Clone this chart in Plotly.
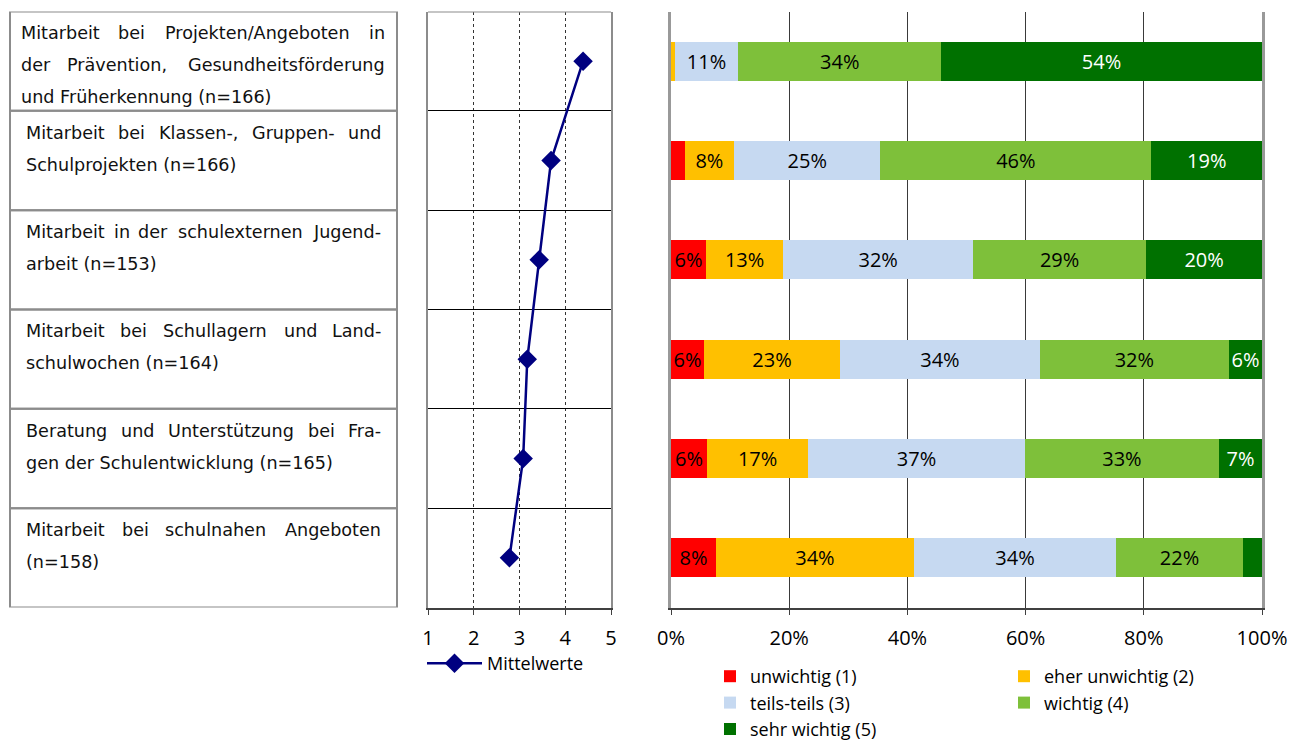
import plotly.graph_objects as go

# ---------------- data ----------------
label_lines = [
    ["Mitarbeit bei Projekten/Angeboten in", "der Prävention, Gesundheitsförderung", "und Früherkennung (n=166)"],
    ["Mitarbeit bei Klassen-, Gruppen- und", "Schulprojekten (n=166)"],
    ["Mitarbeit in der schulexternen Jugend-", "arbeit (n=153)"],
    ["Mitarbeit bei Schullagern und Land-", "schulwochen (n=164)"],
    ["Beratung und Unterstützung bei Fra-", "gen der Schulentwicklung (n=165)"],
    ["Mitarbeit bei schulnahen Angeboten", "(n=158)"],
]
categories = [" ".join(l) for l in label_lines]

means = [4.39, 3.69, 3.43, 3.17, 3.08, 2.78]
mean_ticks = [1, 2, 3, 4, 5]

levels = ["unwichtig (1)", "eher unwichtig (2)", "teils-teils (3)", "wichtig (4)", "sehr wichtig (5)"]
unwichtig = [0.0, 2.3, 5.9, 5.6, 6.1, 7.6]
eher_unwichtig = [0.6, 8.4, 13.1, 23.0, 17.1, 33.5]
teils_teils = [10.8, 24.7, 32.1, 33.8, 36.7, 34.2]
wichtig = [34.3, 45.9, 29.3, 32.0, 32.8, 21.5]
sehr_wichtig = [54.3, 18.7, 19.6, 5.6, 7.3, 3.2]
pct_ticks = [0, 20, 40, 60, 80, 100]
pct_tick_labels = ["0%", "20%", "40%", "60%", "80%", "100%"]

series = [unwichtig, eher_unwichtig, teils_teils, wichtig, sehr_wichtig]
colors = ["#FF0000", "#FFC000", "#C6D9F1", "#7EC03A", "#007100"]
text_colors = ["black", "black", "black", "black", "white"]
legend_ids = ["legend2", "legend3", "legend2", "legend3", "legend2"]

# ---------------- layout helpers ----------------
W, H = 1303, 740
def px(x):
    return x / W
def py(y):
    return 1 - y / H

TICKFONT = dict(family="Open Sans", size=20, color="black")
LEGFONT = dict(family="Open Sans", size=18, color="black")

fig = go.Figure()

fig.add_trace(go.Scatter(
    x=means, y=categories, mode="lines+markers", name="Mittelwerte",
    line=dict(color="#000080", width=2.5),
    marker=dict(symbol="diamond", size=15, color="#000080"),
    xaxis="x", yaxis="y", legend="legend", hoverinfo="skip",
))

for name, vals, col, tcol, lg in zip(levels, series, colors, text_colors, legend_ids):
    fig.add_trace(go.Bar(
        x=vals, y=categories, orientation="h", name=name,
        marker=dict(color=col, line=dict(width=0)),
        width=0.39,
        text=[f"{round(v)}%" if v >= 4 else "" for v in vals],
        textposition="inside", insidetextanchor="middle", textangle=0,
        textfont=dict(family="Open Sans", size=20, color=tcol),
        constraintext="none",
        xaxis="x2", yaxis="y2", legend=lg, hoverinfo="skip",
    ))

# ---------------- left table ----------------
dejavu = {' ': 0.318, 'a': 0.613, 'b': 0.635, 'c': 0.550, 'd': 0.635, 'e': 0.615, 'f': 0.352,
          'g': 0.635, 'h': 0.634, 'i': 0.278, 'j': 0.278, 'k': 0.579, 'l': 0.278, 'm': 0.974,
          'n': 0.634, 'o': 0.612, 'p': 0.635, 'q': 0.635, 'r': 0.411, 's': 0.521, 't': 0.392,
          'u': 0.634, 'v': 0.592, 'w': 0.818, 'x': 0.592, 'y': 0.592, 'z': 0.525,
          'A': 0.684, 'B': 0.686, 'F': 0.575, 'G': 0.775, 'J': 0.295, 'K': 0.656, 'L': 0.557,
          'M': 0.863, 'P': 0.603, 'S': 0.635, 'U': 0.732, 'ä': 0.613, 'ö': 0.612, 'ü': 0.634,
          '/': 0.337, '-': 0.361, ',': 0.318, '(': 0.390, ')': 0.390, '=': 0.838}
FS = 17.6
def wwidth(w):
    return sum(dejavu.get(c, 0.636) for c in w) * FS * 1.03

shapes = []
annotations = []
TFONT = dict(family="DejaVu Sans", size=FS, color="#111")
for i, lines in enumerate(label_lines):
    shapes.append(dict(type="rect", xref="paper", yref="y", x0=px(10), x1=px(397),
                       y0=i - 0.5, y1=i + 0.5, line=dict(color="#8c8c8c", width=2),
                       layer="below"))
    left, right = (20, 386) if i == 0 else (25, 382)
    for k, line in enumerate(lines):
        yshift = 28 - 32 * k
        words = line.split(" ")
        justify = k < len(lines) - 1 and len(words) > 1
        if justify:
            widths = [wwidth(w) for w in words]
            gap = (right - left - sum(widths)) / (len(words) - 1)
            xpos = left
            for j, w in enumerate(words):
                if j == 0:
                    xa, xx = "left", left
                elif j == len(words) - 1:
                    xa, xx = "right", right
                else:
                    xa, xx = "center", xpos + widths[j] / 2
                annotations.append(dict(text=w, xref="paper", yref="y", x=px(xx), y=categories[i],
                                        xanchor=xa, yanchor="middle", yshift=yshift,
                                        showarrow=False, borderpad=0, font=TFONT))
                xpos += widths[j] + gap
        else:
            annotations.append(dict(text=line, xref="paper", yref="y", x=px(left), y=categories[i],
                                    xanchor="left", yanchor="middle", yshift=yshift,
                                    showarrow=False, borderpad=0, font=TFONT))

# top border of mean chart
shapes.append(dict(type="line", xref="x", yref="y", x0=1, x1=5, y0=-0.5, y1=-0.5,
                   line=dict(color="#8c8c8c", width=2)))

ydom = [py(607.5), py(11.5)]

fig.update_layout(
    width=W, height=H, margin=dict(l=0, r=0, t=0, b=0, autoexpand=False),
    paper_bgcolor="white", plot_bgcolor="white",
    font=dict(family="Open Sans", size=19, color="black"),
    barmode="stack",
    xaxis=dict(domain=[px(428), px(611)], range=[1, 5], tickvals=mean_ticks,
               showgrid=True, gridcolor="#333333", griddash="dot", gridwidth=1,
               zeroline=False, showline=True, linecolor="#404040", linewidth=1.5,
               ticks="outside", ticklen=6, tickcolor="#404040", tickfont=TICKFONT,
               ticklabelstandoff=6, anchor="y", fixedrange=True, automargin=False),
    yaxis=dict(domain=ydom, type="category", categoryarray=categories, range=[5.5, -0.5],
               showticklabels=False, tickson="boundaries", ticks="",
               showgrid=True, gridcolor="black", gridwidth=1,
               showline=True, mirror=True, linecolor="#8c8c8c", linewidth=2,
               anchor="x", fixedrange=True, automargin=False),
    xaxis2=dict(domain=[px(671), px(1262)], range=[0, 100], tickvals=pct_ticks,
                ticktext=pct_tick_labels,
                showgrid=True, gridcolor="#3a3a3a", gridwidth=1, zeroline=False,
                showline=True, linecolor="#404040", linewidth=1.5,
                ticks="outside", ticklen=6, tickcolor="#404040", tickfont=TICKFONT,
                ticklabelstandoff=6, anchor="y2", fixedrange=True, automargin=False),
    yaxis2=dict(domain=ydom, type="category", categoryarray=categories, range=[5.5, -0.5],
                showticklabels=False, showgrid=False, ticks="",
                showline=True, mirror=True, linecolor="#999999", linewidth=2.5,
                anchor="x2", fixedrange=True, automargin=False),
    legend=dict(x=px(422), y=py(645), xanchor="left", yanchor="top", font=LEGFONT,
                itemwidth=55,
                bgcolor="rgba(0,0,0,0)", itemclick=False, itemdoubleclick=False),
    legend2=dict(x=px(710), y=py(658), xanchor="left", yanchor="top", font=LEGFONT,
                 traceorder="normal", bgcolor="rgba(0,0,0,0)", tracegroupgap=0,
                 itemclick=False, itemdoubleclick=False),
    legend3=dict(x=px(1004), y=py(658), xanchor="left", yanchor="top", font=LEGFONT,
                 traceorder="normal", bgcolor="rgba(0,0,0,0)", tracegroupgap=0,
                 itemclick=False, itemdoubleclick=False),
    shapes=shapes, annotations=annotations, showlegend=True,
)

fig.write_html("out.html", config={"displayModeBar": False},
               post_script="document.body.style.margin='0px';document.body.style.overflow='hidden';")
